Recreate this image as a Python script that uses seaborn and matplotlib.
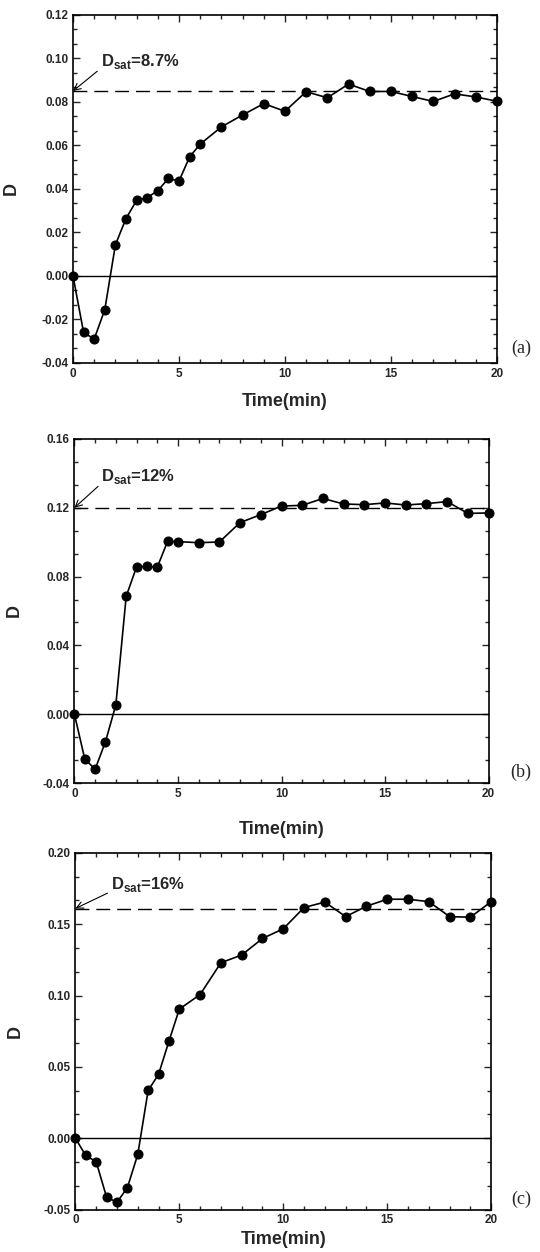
import matplotlib
matplotlib.use("Agg")
import matplotlib.pyplot as plt
from matplotlib.ticker import MultipleLocator, AutoMinorLocator, FormatStrFormatter
import seaborn as sns

# time axis (min) for each panel
time_a = [0, 0.5, 1, 1.5, 2, 2.5, 3, 3.5, 4, 4.5, 5, 5.5, 6,
          7, 8, 9, 10, 11, 12, 13, 14, 15, 16, 17, 18, 19, 20]
time_bc = [0, 0.5, 1, 1.5, 2, 2.5, 3, 3.5, 4, 4.5, 5,
           6, 7, 8, 9, 10, 11, 12, 13, 14, 15, 16, 17, 18, 19, 20]

# D values
d_a = [0.0, -0.026, -0.029, -0.0155, 0.0143, 0.0264, 0.0347, 0.036, 0.0392,
       0.0448, 0.0436, 0.0547, 0.0606, 0.0685, 0.074, 0.0792, 0.0757, 0.0847,
       0.0819, 0.0882, 0.0848, 0.0848, 0.0825, 0.0802, 0.0837, 0.0823, 0.0803]
d_b = [0.0, -0.026, -0.032, -0.016, 0.0054, 0.0685, 0.0856, 0.086, 0.0854,
       0.1005, 0.1003, 0.0997, 0.1001, 0.1114, 0.116, 0.121, 0.1214, 0.1254,
       0.1222, 0.1218, 0.1228, 0.1216, 0.1224, 0.1236, 0.1167, 0.117]
d_c = [0.0, -0.0121, -0.0165, -0.0413, -0.0449, -0.0347, -0.0114, 0.0335,
       0.0447, 0.068, 0.0905, 0.1007, 0.123, 0.1284, 0.140, 0.1468, 0.1617,
       0.1655, 0.1553, 0.1626, 0.1675, 0.1675, 0.1658, 0.1553, 0.1549, 0.1658]

# saturation levels (dashed lines) and their labels
dsat_levels = [0.085, 0.12, 0.161]
dsat_labels = ["8.7%", "12%", "16%"]
panel_tags = ["(a)", "(b)", "(c)"]

# y range / major step per panel
ylims = [(-0.04, 0.12), (-0.04, 0.16), (-0.05, 0.20)]
ysteps = [0.02, 0.04, 0.05]

sns.set_style("ticks")
plt.rcParams["font.family"] = ["Liberation Sans", "DejaVu Sans"]
plt.rcParams["axes.unicode_minus"] = False
plt.rcParams["mathtext.fontset"] = "custom"
plt.rcParams["mathtext.bf"] = "Liberation Sans:bold"
plt.rcParams["mathtext.rm"] = "Liberation Sans"

fig = plt.figure(figsize=(5.4, 12.52), dpi=100)

# axes boxes in figure fractions
boxes = [
    [0.1352, 0.7101, 0.785, 0.278],
    [0.1378, 0.3746, 0.767, 0.2748],
    [0.1396, 0.0339, 0.770, 0.2849],
]
xlabel_y = [-0.085, -0.11, -0.06]
text_pos = [(0.065, 0.865), (0.065, 0.89), (0.085, 0.91)]
tag_y = [0.722, 0.383, 0.042]

series = [(time_a, d_a), (time_bc, d_b), (time_bc, d_c)]

for i in range(3):
    ax = fig.add_axes(boxes[i])
    t, d = series[i]
    ax.axhline(0, color="black", lw=1.0, zorder=1)
    ax.axhline(dsat_levels[i], color="black", lw=1.0, ls=(0, (10, 5)), zorder=1)
    sns.lineplot(x=t, y=d, ax=ax, color="black", marker="o", markersize=6.5,
                 markeredgecolor="black", linewidth=1.2, clip_on=False, zorder=3)

    ax.set_xlim(0, 20)
    ax.set_ylim(*ylims[i])
    ax.xaxis.set_major_locator(MultipleLocator(5))
    ax.xaxis.set_minor_locator(AutoMinorLocator(5))
    ax.yaxis.set_major_locator(MultipleLocator(ysteps[i]))
    ax.yaxis.set_minor_locator(AutoMinorLocator(3))
    ax.yaxis.set_major_formatter(FormatStrFormatter("%.2f"))
    ax.tick_params(which="both", direction="in", top=True, right=True,
                   width=1.0, labelsize=8.5)
    ax.tick_params(which="major", length=5)
    ax.tick_params(which="minor", length=3)
    for lab in ax.get_xticklabels() + ax.get_yticklabels():
        lab.set_fontweight("bold")
    for sp in ax.spines.values():
        sp.set_linewidth(1.2)
        sp.set_color("black")

    ax.set_xlabel("Time(min)", fontsize=13, fontweight="bold",
                  family=["Liberation Sans Narrow", "Liberation Sans"])
    ax.set_ylabel("D", fontsize=13, fontweight="bold")
    ax.xaxis.set_label_coords(0.5, xlabel_y[i])
    ax.yaxis.set_label_coords(-0.125, 0.5)

    ax.annotate(r"$\mathbf{D}_{\mathbf{sat}}$=" + dsat_labels[i],
                xy=(0, dsat_levels[i]), xycoords="data",
                xytext=text_pos[i], textcoords="axes fraction",
                ha="left", va="center", fontsize=12, fontweight="bold",
                arrowprops=dict(arrowstyle="->", lw=0.8, color="black",
                                shrinkA=0, shrinkB=0, relpos=(0, 0.15)))

    fig.text(0.965, tag_y[i], panel_tags[i], ha="center", va="center",
             fontsize=13, family=["Liberation Serif", "DejaVu Serif"])

fig.savefig("out.png", dpi=100)
